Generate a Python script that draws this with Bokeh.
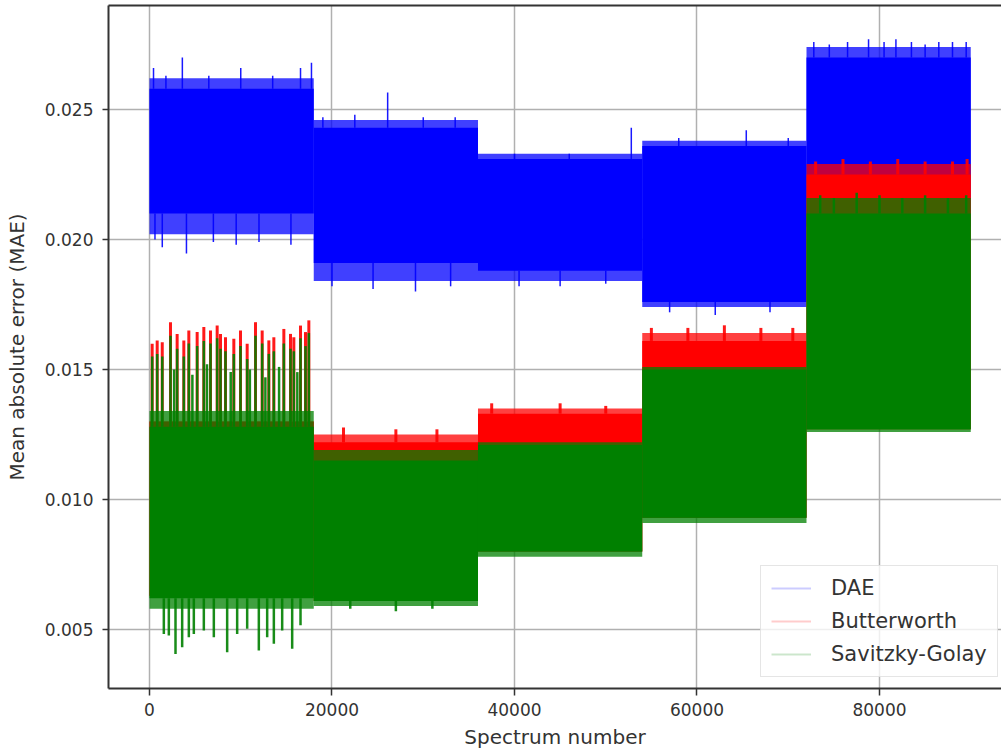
import numpy as np
from bokeh.plotting import figure
from bokeh.models import (Range1d, FixedTicker, LinearAxis, Legend, LegendItem)
from bokeh.embed import file_html
from bokeh.resources import INLINE

# ---------------- data ----------------
series_names = ["DAE", "Butterworth", "Savitzky-Golay"]
series_colors = ["#0000ff", "#ff0000", "#008000"]

# five blocks of spectra
seg_start = [0, 18000, 36000, 54000, 72000]
seg_end = [18000, 36000, 54000, 72000, 90000]

# DAE: dense band per block (core) and its ragged fringe
dae_core_lo = [0.0210, 0.0191, 0.0188, 0.0176, 0.0205]
dae_core_hi = [0.0258, 0.0243, 0.0231, 0.0236, 0.0270]
dae_fringe_lo = [0.0202, 0.0184, 0.0184, 0.0174, 0.0205]
dae_fringe_hi = [0.0262, 0.0246, 0.0233, 0.0238, 0.0274]
dae_spike_x = [440, 1800, 3600, 6500, 10000, 13500, 16550, 17750,
               19000, 22500, 26100, 30000, 33500,
               40000, 46000, 52800,
               58000, 65400, 70000,
               72800, 74500, 76500, 78800, 80500, 81800, 83500, 85000, 86500, 88000, 89500,
               600, 1400, 4050, 7000, 9500, 12000, 15500,
               20000, 24500, 29150, 33000,
               40500, 45000, 50000,
               57000, 62000, 68000]
dae_spike_y = [0.0266, 0.0263, 0.0270, 0.0263, 0.0266, 0.0263, 0.0266, 0.0268,
               0.0247, 0.0248, 0.02565, 0.0247, 0.0247,
               0.0233, 0.0233, 0.0243,
               0.0239, 0.0242, 0.0239,
               0.0276, 0.0275, 0.0276, 0.0277, 0.0276, 0.0277, 0.0276, 0.0275, 0.0276, 0.0276, 0.0276,
               0.0200, 0.0197, 0.01946, 0.0199, 0.0198, 0.0199, 0.0198,
               0.0182, 0.0181, 0.0180, 0.0182,
               0.0182, 0.0182, 0.0183,
               0.0172, 0.0171, 0.0172]

# Butterworth
bw_core_lo = [0.0063, 0.0061, 0.0080, 0.0093, 0.0127]
bw_core_hi = [0.0130, 0.0122, 0.0133, 0.0161, 0.0225]
bw_fringe_lo = [0.0063, 0.0061, 0.0080, 0.0093, 0.0127]
bw_fringe_hi = [0.0130, 0.0125, 0.0135, 0.0164, 0.0229]
bw_spike_x = [292, 843, 1397, 2301, 3030, 3762, 4310, 5223, 5954, 6685, 7416, 7781, 8329,
              9242, 9973, 10704, 11617, 12348, 13079, 13627, 14723, 15453, 15818, 16549,
              17097, 17462,
              21260, 27000, 31500,
              37500, 45000, 50000,
              55000, 59000, 63000, 67000, 70500,
              73000, 76000, 79000, 82000, 85000, 88000, 89600]
bw_spike_y = [0.01599, 0.01612, 0.01605, 0.01682, 0.01637, 0.01612, 0.01650, 0.01644,
              0.01663, 0.01650, 0.01669, 0.01637, 0.01624, 0.01618, 0.01650, 0.01599,
              0.01682, 0.01650, 0.01612, 0.01624, 0.01656, 0.01637, 0.01624, 0.01669,
              0.01644, 0.01689,
              0.01277, 0.0127, 0.0127,
              0.0137, 0.0137, 0.0136,
              0.0166, 0.0166, 0.0167, 0.0166, 0.0166,
              0.0230, 0.0231, 0.0230, 0.0231, 0.0230, 0.0230, 0.0231]

# Savitzky-Golay
sg_core_lo = [0.0062, 0.0061, 0.0080, 0.0093, 0.0127]
sg_core_hi = [0.0128, 0.0115, 0.0121, 0.0150, 0.0210]
sg_fringe_lo = [0.0058, 0.0059, 0.0078, 0.0091, 0.0126]
sg_fringe_hi = [0.0134, 0.0119, 0.0122, 0.0151, 0.0216]
sg_spike_x = [292, 843, 1397, 2301, 3030, 3762, 4310, 5223, 5954, 6685, 7416, 7781, 8329,
              9242, 9973, 10704, 11617, 12348, 13079, 13627, 14723, 15453, 15818, 16549,
              17097, 17462,
              2700, 4700, 6300, 8900, 11000, 12700, 14200, 16200,
              73500, 75000, 77500, 80000, 82500, 85000, 87500, 89500,
              1571, 2119, 2850, 3580, 4310, 4858, 5954, 7050, 8511, 9607, 10704,
              11982, 12896, 13627, 14540, 15636, 16549,
              22000, 27000, 31000]
sg_spike_y = [0.0155, 0.0156, 0.0155, 0.0163, 0.0158, 0.0155, 0.0160, 0.0159, 0.0161,
              0.0160, 0.0162, 0.0158, 0.0157, 0.0156, 0.0159, 0.0154, 0.0163, 0.0160,
              0.0156, 0.0157, 0.0160, 0.0158, 0.0157, 0.0162, 0.0159, 0.0164,
              0.0150, 0.0148, 0.0152, 0.0149, 0.0150, 0.0147, 0.0151, 0.0149,
              0.0217, 0.0216, 0.0218, 0.0217, 0.0216, 0.0217, 0.0216, 0.0217,
              0.00483, 0.00477, 0.00406, 0.00432, 0.00470, 0.00483, 0.00496, 0.00470,
              0.00413, 0.00483, 0.00503, 0.00419, 0.00470, 0.00445, 0.00496, 0.00426,
              0.00516,
              0.0058, 0.0057, 0.0058]

x_ticks = [0, 20000, 40000, 60000, 80000]
x_tick_labels = ["0", "20000", "40000", "60000", "80000"]
y_ticks = [0.005, 0.010, 0.015, 0.020, 0.025]
y_tick_labels = ["0.005", "0.010", "0.015", "0.020", "0.025"]

# ---------------- figure ----------------
FONT = "DejaVu Sans"
TXT = "#333333"

p = figure(width=1001, height=754,
           x_range=Range1d(-4493, 93370), y_range=Range1d(0.002731, 0.0290),
           output_backend="svg", toolbar_location=None,
           min_border_left=108, min_border_right=0, min_border_top=5, min_border_bottom=66)
p.outline_line_color = None
p.background_fill_color = "white"


def spike_bases(xs, ys, lo, hi):
    out = []
    for x, y in zip(xs, ys):
        i = int(np.clip(np.searchsorted(seg_end, x, side="right"), 0, len(seg_end) - 1))
        out.append(hi[i] if y > hi[i] else lo[i])
    return out


def draw_series(color, core_lo, core_hi, fr_lo, fr_hi, sx, sy, spike_w):
    p.quad(left=seg_start, right=seg_end, bottom=fr_lo, top=fr_hi,
           fill_color=color, fill_alpha=0.75, line_color=None)
    p.quad(left=seg_start, right=seg_end, bottom=core_lo, top=core_hi,
           fill_color=color, fill_alpha=1.0, line_color=None)
    p.segment(x0=sx, y0=spike_bases(sx, sy, core_lo, core_hi), x1=sx, y1=sy,
              line_color=color, line_width=spike_w, line_alpha=0.9)


draw_series(series_colors[0], dae_core_lo, dae_core_hi, dae_fringe_lo, dae_fringe_hi,
            dae_spike_x, dae_spike_y, 1.5)
draw_series(series_colors[1], bw_core_lo, bw_core_hi, bw_fringe_lo, bw_fringe_hi,
            bw_spike_x, bw_spike_y, 3)
draw_series(series_colors[2], sg_core_lo, sg_core_hi, sg_fringe_lo, sg_fringe_hi,
            sg_spike_x, sg_spike_y, 2.5)

# legend proxies (faint lines like the original); a single NaN point draws nothing
proxies = [p.line(x=[np.nan], y=[np.nan], line_color=c, line_alpha=0.2, line_width=2)
           for c in series_colors]
legend = Legend(items=[LegendItem(label=n, renderers=[r], index=0)
                       for n, r in zip(series_names, proxies)],
                location=(652, 11), orientation="vertical")
legend.label_text_font = FONT
legend.label_text_font_size = "21px"
legend.label_text_color = TXT
legend.glyph_width = 40
legend.glyph_height = 24
legend.label_height = 24
legend.label_standoff = 20
legend.spacing = 9
legend.padding = 10
legend.margin = 0
legend.border_line_color = "#cccccc"
legend.border_line_width = 1
legend.background_fill_alpha = 0.8
p.add_layout(legend)

# axes
for ax in (p.xaxis[0], p.yaxis[0]):
    ax.axis_line_color = "#333333"
    ax.axis_line_width = 2
    ax.major_tick_line_color = "#333333"
    ax.major_tick_line_width = 1.5
    ax.major_tick_in = 0
    ax.minor_tick_line_color = None
    ax.major_label_text_font = FONT
    ax.major_label_text_font_size = "17px"
    ax.major_label_text_color = TXT
    ax.axis_label_text_font = FONT
    ax.axis_label_text_font_size = "20px"
    ax.axis_label_text_font_style = "normal"
    ax.axis_label_text_color = TXT

p.xaxis.ticker = FixedTicker(ticks=x_ticks)
p.xaxis.major_label_overrides = dict(zip(x_ticks, x_tick_labels))
p.yaxis.ticker = FixedTicker(ticks=y_ticks)
p.yaxis.major_label_overrides = dict(zip(y_ticks, y_tick_labels))
p.xaxis.axis_label = "Spectrum number"
p.yaxis.axis_label = "Mean absolute error (MAE)"
p.xaxis.major_tick_out = 7
p.xaxis.major_label_standoff = 7
p.xaxis.axis_label_standoff = 6
p.yaxis.major_tick_out = 6
p.yaxis.major_label_standoff = 9
p.yaxis.axis_label_standoff = 13

# top spine
top_axis = LinearAxis(ticker=FixedTicker(ticks=[]), major_tick_out=0, major_tick_in=0,
                      minor_tick_out=0, minor_tick_in=0, major_label_text_font_size="0px",
                      major_label_standoff=0, axis_line_color="#333333", axis_line_width=2)
p.add_layout(top_axis, "above")

# grid
p.xgrid.ticker = FixedTicker(ticks=x_ticks)
p.ygrid.ticker = FixedTicker(ticks=y_ticks)
for g in (p.xgrid[0], p.ygrid[0]):
    g.grid_line_color = "#b0b0b0"
    g.grid_line_width = 1.5

open("out.html", "w").write(file_html(p, INLINE))
